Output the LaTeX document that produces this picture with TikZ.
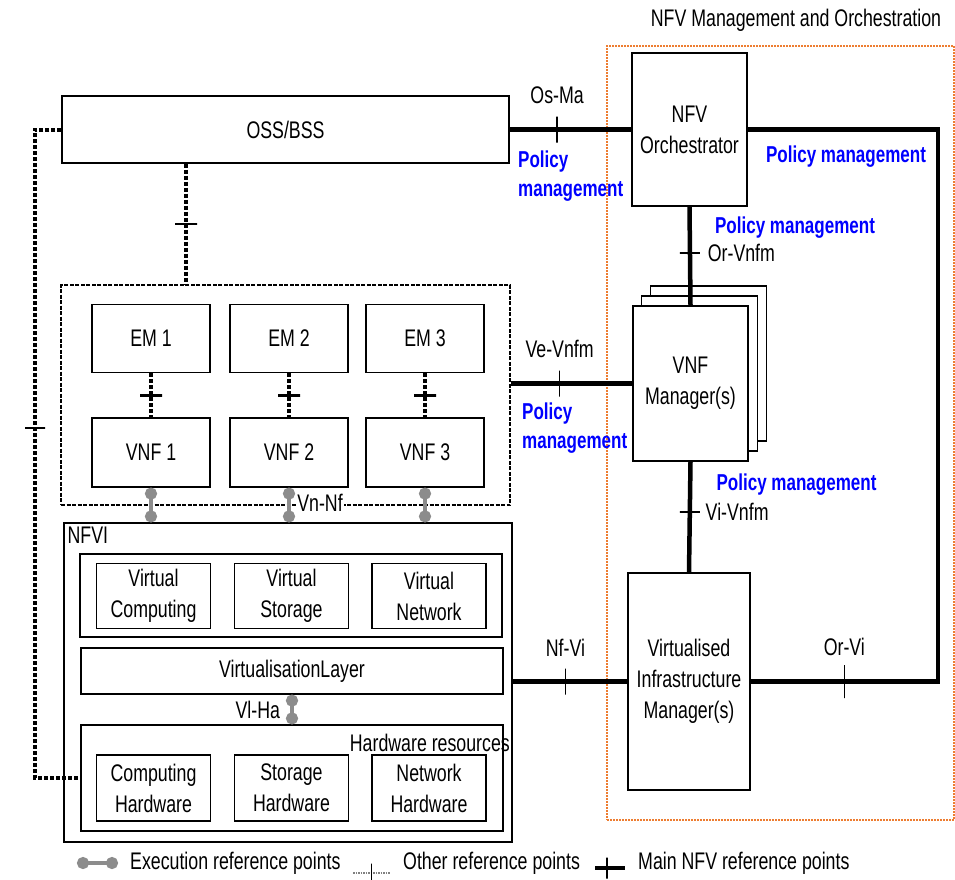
\documentclass[tikz,border=0pt]{standalone}
\usepackage{fontspec}
\setmainfont[FakeStretch=0.74]{Liberation Sans}
\usetikzlibrary{arrows.meta}
\definecolor{manoorange}{RGB}{237,125,49}

\tikzset{
  box/.style={draw, line width=1.2pt, fill=white, inner sep=0pt, align=center},
  main/.style={line width=4.5pt},
  other/.style={line width=4pt, dash pattern=on 4pt off 2pt},
  exec/.style={line width=4pt, draw=gray!90, {Circle[length=12pt]}-{Circle[length=12pt]}},
  vtick/.style={draw=black, solid, line width=1.3pt, inner sep=0pt, minimum width=0pt, minimum height=26pt},
  htick/.style={draw=black, solid, line width=1.3pt, inner sep=0pt, minimum height=0pt, minimum width=20pt},
  pm/.style={text=blue, font=\fontsize{23}{29}\selectfont\bfseries, align=left, inner sep=0pt},
  every label/.style={inner sep=1pt},
}

\begin{document}
\begin{tikzpicture}[x=1pt, y=-1pt, font=\fontsize{24}{31}\selectfont]
\useasboundingbox (0,0) rectangle (955,879);

% MANO frame
\node (mano) at (780.5,433) [draw=manoorange, line width=1.5pt, dash pattern=on 2pt off 1pt, minimum width=347pt, minimum height=774pt] {};
\node (manotitle) at (796,20) {NFV Management and Orchestration};

\node (oss) at (285.5,129.5) [box, minimum width=447pt, minimum height=67pt] {OSS/BSS};

\node (vnfs) at (285.5,395) [draw, line width=2pt, dash pattern=on 4pt off 1.5pt, minimum width=449pt, minimum height=220pt] {};

\foreach \i/\xc in {1/151,2/289,3/425}
    {
    \node (em\i) at (\xc,338.5) [box, minimum width=118pt, minimum height=68pt] {EM \i};
    \node (vnf\i) at (\xc,452.5) [box, minimum width=118pt, minimum height=69pt] {VNF \i};
    \draw[other, line width=3.5pt] (em\i) -- node[htick, line width=2.5pt, minimum width=22pt] {} (vnf\i);
    }

% NFVI
\node (nfvi) at (288,682.5) [box, minimum width=448pt, minimum height=319pt] {};
\node (nfvilabel) at (nfvi.north west) [anchor=north west, inner sep=4pt] {NFVI};

\node (vres) at (291,595.5) [box, minimum width=422pt, minimum height=83pt] {};
\foreach \nm/\xc/\txt in {vcomp/153.5/Computing, vstor/291.5/Storage, vnet/429/Network}
    \node (\nm) at (\xc,596) [box, minimum width=114pt, minimum height=65pt] {Virtual\\\txt};

\node (vlayer) at (292,671) [box, minimum width=422pt, minimum height=46pt] {VirtualisationLayer};
\node (hwres) at (292,778) [box, minimum width=422pt, minimum height=106pt] {};
\node (hwlabel) at (510,743) [anchor=east, inner sep=0pt] {Hardware resources};
\foreach \nm/\xc/\txt in {hwcomp/153.5/Computing, hwstor/291.5/Storage, hwnet/429/Network}
    \node (\nm) at (\xc,788) [box, minimum width=114pt, minimum height=66pt] {\txt\\Hardware};

\draw[exec] (vlayer.south) -- node[left=8pt, inner sep=2pt] {Vl-Ha} (hwres.north);

\node (vnnf) at (320,503) [fill=white, inner sep=1pt] {Vn-Nf};
\foreach \i in {1,2,3}
    \draw[exec] (vnf\i.south) -- (vnf\i.south |- nfvi.north);

% other reference points
\draw[other, line width=3.5pt] ([xshift=-99.5pt]oss.south) -- node[htick, line width=2.5pt, minimum width=22pt] {} ([xshift=-99.5pt]oss.south |- vnfs.north);
\draw[other] (oss.west) -- ++(-26.4,0) |- coordinate[pos=0.23] (losstick) (hwres.west);
\node (lossmark) at (losstick) [htick, line width=1.5pt] {};

% MANO blocks
\node (orch) at (689.5,129.5) [box, minimum width=115pt, minimum height=153pt] {NFV\\Orchestrator};
\foreach \k in {2,1}
    \node (vnfm\k) at (690.5+9*\k,383.5-10*\k) [box, minimum width=116pt, minimum height=155pt] {};
\node (vnfm) at (690.5,383.5) [box, minimum width=115pt, minimum height=155pt] {VNF\\Manager(s)};
\node (vim) at (689,681.5) [box, minimum width=122pt, minimum height=217pt] {Virtualised\\Infrastructure\\Manager(s)};

% main reference points
\draw[main] (oss.east) -- node[pos=0.39, vtick, label={[yshift=9pt]above:Os-Ma}] {} (orch.west);
\draw[main] (orch.east) -- ++(190.5,0) |- node[pos=0.75, vtick, minimum height=33pt, label={[yshift=5pt]above:Or-Vi}] {} (vim.east);
\draw[main] (orch.south) -- node[pos=0.47, htick, label={[xshift=4pt]right:Or-Vnfm}] {} (vnfm.north);
\draw[main] (vnfs.east |- vnfm.west) -- node[pos=0.4, vtick, label={[yshift=9pt]above:Ve-Vnfm}] {} (vnfm.west);
\draw[main] (vnfm.south) -- node[pos=0.455, htick, label={[xshift=2pt]right:Vi-Vnfm}] {} (vim.north);
\draw[main] (nfvi.east |- vim.west) -- node[pos=0.46, vtick, label={[yshift=8pt]above:Nf-Vi}] {} (vim.west);

\node (pmosma) at (518,176) [pm, anchor=west] {Policy\\management};
\node (pmorvi) at (846,157) [pm] {Policy management};
\node (pmorvnfm) at (795,228) [pm] {Policy management};
\node (pmvevnfm) at (522,428) [pm, anchor=west] {Policy\\management};
\node (pmvivnfm) at (796.5,485) [pm] {Policy management};

% legend
\node (lexec) at (130,863) [anchor=west, inner sep=0pt] {Execution reference points};
\node (lother) at (403,863) [anchor=west, inner sep=0pt] {Other reference points};
\node (lmain) at (638,863) [anchor=west, inner sep=0pt] {Main NFV reference points};
\draw[exec] ([xshift=-53pt]lexec.west) -- ([xshift=-12pt]lexec.west);
\draw[draw=gray, line width=1.5pt, dash pattern=on 1.5pt off 1pt] ([xshift=-50pt,yshift=-10pt]lother.west) -- node[vtick, line width=1pt, minimum height=19pt] {} ([xshift=-13pt,yshift=-10pt]lother.west);
\draw[main] ([xshift=-43pt,yshift=-5pt]lmain.west) -- node[pos=0.4, vtick, minimum height=21pt] {} ([xshift=-13pt,yshift=-5pt]lmain.west);

\end{tikzpicture}
\end{document}
